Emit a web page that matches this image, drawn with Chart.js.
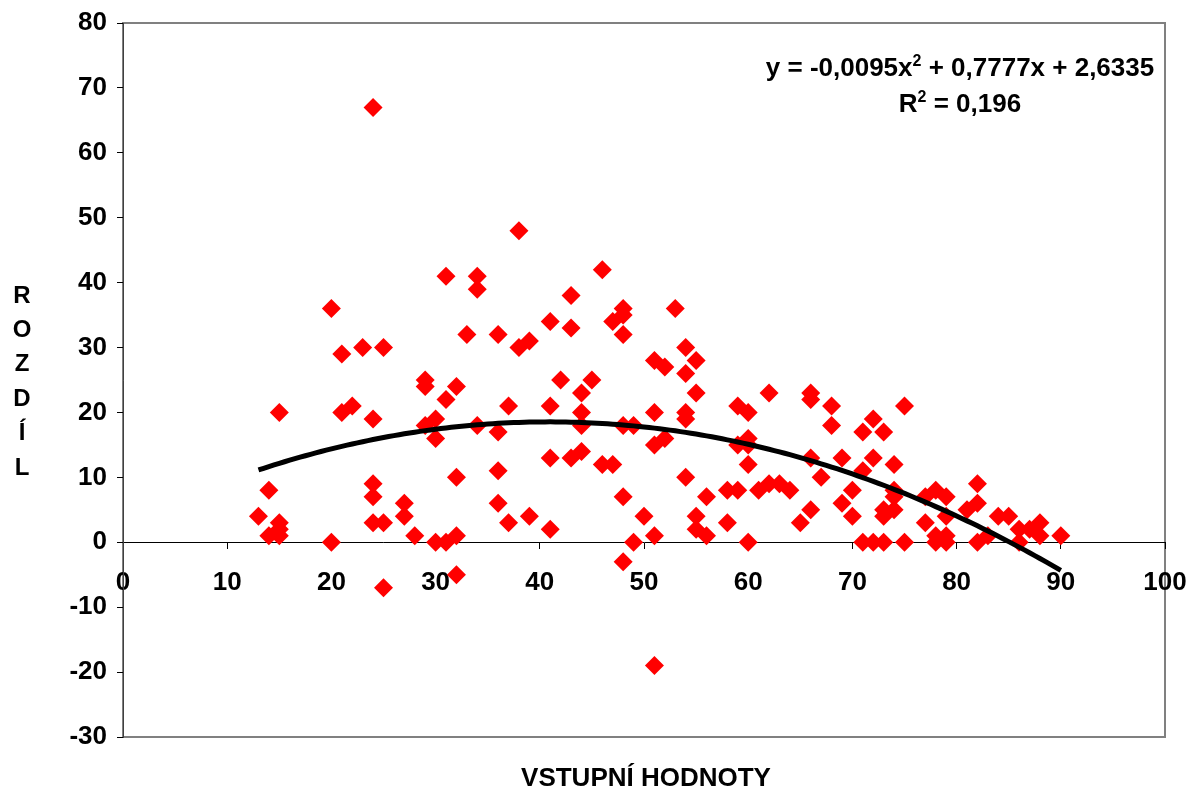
<!DOCTYPE html>
<html>
<head>
<meta charset="utf-8">
<script src="https://cdn.jsdelivr.net/npm/chart.js@4.4.1/dist/chart.umd.min.js"></script>
<style>
  html, body { margin: 0; padding: 0; background: #fff; }
  #chart { display: block; }
</style>
</head>
<body>
<canvas id="chart" width="1196" height="792"></canvas>
<script>
// measured pairs: input value (x) and difference (y)
const xValues = [
  13, 14, 14, 15, 15, 15, 15, 20, 20, 21, 21, 22, 23, 24, 24, 24, 24, 24, 25, 25,
  25, 27, 27, 28, 29, 29, 29, 30, 30, 30, 31, 31, 31, 32, 32, 32, 32, 33, 34, 34,
  34, 36, 36, 36, 36, 37, 37, 38, 38, 39, 39, 41, 41, 41, 41, 42, 43, 43, 43, 44,
  44, 44, 44, 45, 46, 46, 47, 47, 48, 48, 48, 48, 48, 48, 49, 49, 50, 51, 51, 51,
  51, 51, 52, 52, 53, 54, 54, 54, 54, 54, 55, 55, 55, 55, 56, 56, 58, 58, 59, 59,
  59, 60, 60, 60, 60, 60, 61, 62, 62, 63, 64, 65, 66, 66, 66, 66, 67, 68, 68, 69,
  69, 70, 70, 71, 71, 71, 72, 72, 72, 73, 73, 73, 73, 74, 74, 74, 74, 75, 75, 77,
  77, 78, 78, 78, 79, 79, 79, 79, 81, 82, 82, 82, 83, 84, 85, 86, 86, 87, 88, 88,
  90
];
const yValues = [
   4,  8,  1, 20,  3,  2,  1, 36,  0, 29, 20, 21, 30, 67, 19,  9,  7,  3, 30,  3,
  -7,  6,  4,  1, 25, 24, 18, 19, 16,  0, 41, 22,  0, 24, 10,  1, -5, 32, 41, 39,
  18, 32, 17, 11,  6, 21,  3, 48, 30, 31,  4, 34, 21, 13,  2, 25, 38, 33, 13, 23,
  20, 18, 14, 25, 42, 12, 34, 12, 36, 35, 32, 18,  7, -3, 18,  0,  4, 28, 20, 15,
   1, -19, 27, 16, 36, 30, 26, 20, 19, 10, 28, 23,  4,  2,  7,  1,  8,  3, 21, 15,
   8, 20, 16, 15, 12,  0,  8, 23,  9,  9,  8,  3, 23, 22, 13,  5, 10, 21, 18, 13,
   6,  8,  4, 17, 11,  0, 19, 13,  0, 17,  5,  4,  0, 12,  8,  7,  5, 21,  0,  7,
   3,  8,  1,  0,  7,  4,  1,  0,  5,  9,  6,  0,  1,  4,  4,  2,  0,  2,  3,  1,
   1
];

// polynomial trend (a*x^2 + b*x + c) and the x span it is drawn over
const trendCoef = [-0.0095, 0.7777, 2.6335];
const trendFrom = 13;
const trendTo = 90;
const trendText = [['y = -0,0095x', false], ['2', true], [' + 0,7777x + 2,6335', false]];
const r2Text = [['R', false], ['2', true], [' = 0,196', false]];

const xTitle = 'VSTUPNÍ HODNOTY';
const yTitle = 'ROZDÍL';

const FONT = '"Liberation Sans", Arial, sans-serif';
const FONT_SIZE = 26;

const points = xValues.map((x, i) => ({ x: x, y: yValues[i] }));

const trendPoints = [];
for (let x = trendFrom; x <= trendTo; x += 0.5) {
  trendPoints.push({ x: x, y: trendCoef[0] * x * x + trendCoef[1] * x + trendCoef[2] });
}

function drawParts(ctx, parts, cx, baseline, size) {
  // text with superscript pieces, centred on cx
  const supSize = Math.round(size * 0.62);
  const widths = parts.map(([t, sup]) => {
    ctx.font = 'bold ' + (sup ? supSize : size) + 'px ' + FONT;
    return ctx.measureText(t).width;
  });
  let x = cx - widths.reduce((a, b) => a + b, 0) / 2;
  parts.forEach(([t, sup], i) => {
    ctx.font = 'bold ' + (sup ? supSize : size) + 'px ' + FONT;
    ctx.fillText(t, x, sup ? baseline - size * 0.4 : baseline);
    x += widths[i];
  });
}

const decor = {
  id: 'decor',
  beforeDraw(chart) {
    const { ctx, chartArea: a } = chart;
    ctx.save();
    ctx.strokeStyle = '#808080';
    ctx.lineWidth = 2;
    ctx.strokeRect(a.left, a.top, a.right - a.left, a.bottom - a.top);
    ctx.restore();
  },
  afterDraw(chart) {
    const { ctx, chartArea: a } = chart;
    ctx.save();
    ctx.fillStyle = '#000';
    ctx.textAlign = 'left';
    ctx.textBaseline = 'alphabetic';
    drawParts(ctx, trendText, 960, 76, FONT_SIZE);
    drawParts(ctx, r2Text, 960, 112, FONT_SIZE);

    ctx.font = 'bold ' + FONT_SIZE + 'px ' + FONT;
    ctx.textAlign = 'center';
    ctx.textBaseline = 'middle';
    ctx.fillText(xTitle, (a.left + a.right) / 2 + 2, 779);
    ctx.font = 'bold 24px ' + FONT;
    yTitle.split('').forEach((ch, i) => {
      ctx.fillText(ch, 22, 296 + i * 34.4);
    });
    ctx.restore();
  }
};

new Chart(document.getElementById('chart'), {
  type: 'scatter',
  data: {
    datasets: [
      {
        type: 'line',
        data: trendPoints,
        borderColor: '#000',
        borderWidth: 5,
        pointRadius: 0,
        tension: 0,
        fill: false
      },
      {
        data: points,
        pointStyle: 'rectRot',
        pointRadius: 9.5,
        pointHoverRadius: 9.5,
        backgroundColor: '#ff0000',
        borderColor: '#ff0000',
        borderWidth: 0
      }
    ]
  },
  options: {
    responsive: false,
    animation: false,
    layout: { padding: { left: 0, top: 23, right: 31, bottom: 55 } },
    plugins: {
      legend: { display: false },
      tooltip: { enabled: false }
    },
    scales: {
      x: {
        type: 'linear',
        position: { y: 0 },
        min: 0,
        max: 100,
        afterFit(scale) {
          scale.height = 0;
          scale.paddingLeft = 0;
          scale.paddingRight = 0;
        },
        ticks: {
          stepSize: 10,
          color: '#000',
          padding: 19,
          maxRotation: 0,
          font: { family: FONT, size: FONT_SIZE, weight: 'bold' }
        },
        grid: { drawOnChartArea: false, drawTicks: true, tickLength: 6, color: '#000' },
        border: { color: '#000', width: 1 }
      },
      y: {
        type: 'linear',
        position: 'left',
        min: -30,
        max: 80,
        afterFit(scale) {
          scale.width = 123;
          scale.paddingTop = 0;
          scale.paddingBottom = 0;
        },
        ticks: {
          stepSize: 10,
          color: '#000',
          padding: 10,
          font: { family: FONT, size: FONT_SIZE, weight: 'bold' }
        },
        grid: { drawOnChartArea: false, drawTicks: true, tickLength: 6, color: '#000' },
        border: { color: '#404040', width: 1 }
      }
    }
  },
  plugins: [decor]
});
</script>
</body>
</html>
